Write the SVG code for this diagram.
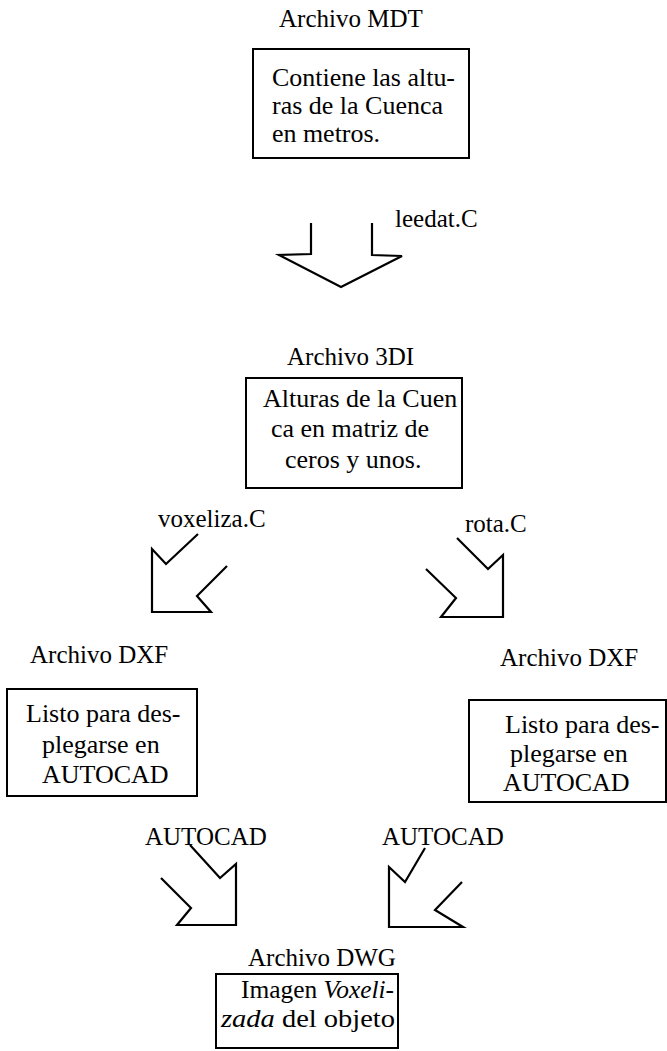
<svg xmlns="http://www.w3.org/2000/svg" width="667" height="1051" viewBox="0 0 667 1051">
<defs>
<style>
text{font-family:"Liberation Serif","Times New Roman",serif;font-size:25px;fill:#000}
.b{font-size:26px}
.box{fill:none;stroke:#000;stroke-width:2}
.arr{fill:none;stroke:#000;stroke-width:2.2;stroke-linejoin:miter}
</style>
</defs>
<rect width="667" height="1051" fill="#fff"/>
<g id="mdt">
<text x="279" y="27">Archivo MDT</text>
<rect class="box" x="253" y="49" width="216" height="109"/>
<text x="272" y="86" textLength="183" lengthAdjust="spacingAndGlyphs">Contiene las altu-</text>
<text x="272" y="114" textLength="171" lengthAdjust="spacingAndGlyphs">ras de la Cuenca</text>
<text x="272" y="142" textLength="108" lengthAdjust="spacingAndGlyphs">en metros.</text>
</g>
<g id="tdi">
<text x="287" y="365">Archivo 3DI</text>
<rect class="box" x="246" y="378" width="216" height="110"/>
<text class="b" x="263" y="407">Alturas de la Cuen</text>
<text class="b" x="271" y="437">ca en matriz de</text>
<text class="b" x="285" y="468">ceros y unos.</text>
</g>
<g id="dxf-left">
<text x="30" y="663">Archivo DXF</text>
<rect class="box" x="7" y="689" width="190" height="107"/>
<text class="b" x="26" y="722">Listo para des-</text>
<text class="b" x="42" y="753">plegarse en</text>
<text class="b" x="42" y="783">AUTOCAD</text>
</g>
<g id="dxf-right">
<text x="500" y="666">Archivo DXF</text>
<rect class="box" x="469" y="700" width="197" height="102"/>
<text class="b" x="505" y="733">Listo para des-</text>
<text class="b" x="510" y="762">plegarse en</text>
<text class="b" x="503" y="791">AUTOCAD</text>
</g>
<g id="dwg">
<text x="248" y="966">Archivo DWG</text>
<rect class="box" x="216" y="974" width="182" height="74"/>
<text class="b" x="241" y="998" textLength="153" lengthAdjust="spacingAndGlyphs">Imagen <tspan font-style="italic">Voxeli-</tspan></text>
<text class="b" x="221" y="1027" textLength="174" lengthAdjust="spacingAndGlyphs"><tspan font-style="italic">zada</tspan> del objeto</text>
</g>
<g id="connectors">
<polyline class="arr" points="311,223 311,254 279,255 341,287 402,256 372,255 372,223"/>
<text x="395" y="227">leedat.C</text>
<polyline class="arr" points="198,534 166,564 152,549 152,612 211,612 197,596 227,566"/>
<text x="158" y="527">voxeliza.C</text>
<polyline class="arr" points="457,538 488,569 503,555 503,617 441,617 456,598 426,569"/>
<text x="465" y="532">rota.C</text>
<polyline class="arr" points="190,845 220,878 236,864 236,925 177,925 191,908 161,878"/>
<text x="145" y="845">AUTOCAD</text>
<polyline class="arr" points="425,848 405,882 389,867 389,927 463,927 435,910 462,882"/>
<text x="382" y="845">AUTOCAD</text>
</g>
</svg>
